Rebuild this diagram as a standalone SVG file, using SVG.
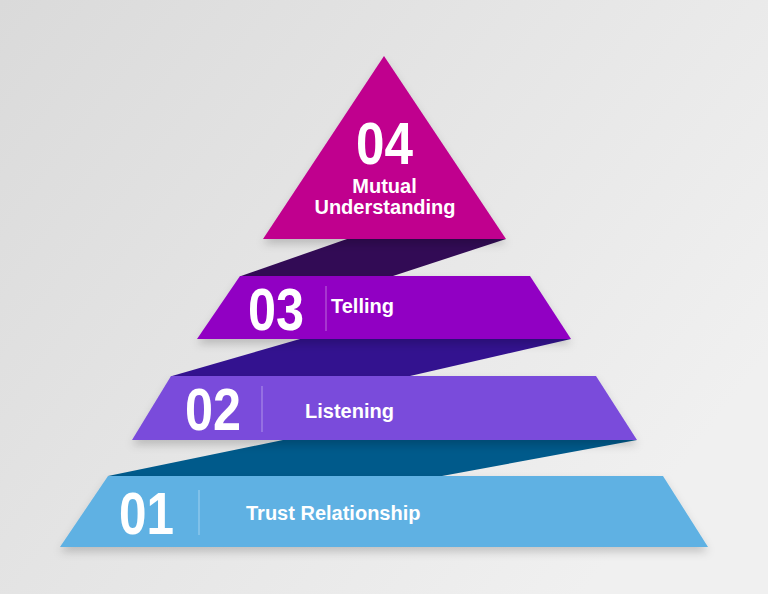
<svg xmlns="http://www.w3.org/2000/svg" width="768" height="594" viewBox="0 0 768 594">
  <defs>
    <linearGradient id="bg" x1="0" y1="0" x2="1" y2="0.6">
      <stop offset="0" stop-color="#dadada"/>
      <stop offset="1" stop-color="#f0f0f0"/>
    </linearGradient>
    <filter id="sh" x="-10%" y="-20%" width="120%" height="150%">
      <feDropShadow dx="0" dy="5" stdDeviation="4" flood-color="#000" flood-opacity="0.18"/>
    </filter>
  </defs>
  <style>
    .num { font-family: "Liberation Sans", Arial, sans-serif; font-weight: bold; font-size: 59px; fill: #ffffff; }
    .lbl { font-family: "Liberation Sans", Arial, sans-serif; font-weight: bold; font-size: 20px; fill: #ffffff; }
    .div { stroke: #ffffff; stroke-opacity: 0.35; stroke-width: 1.2; }
    .shape { filter: url(#sh); }
  </style>
  <rect width="768" height="594" fill="url(#bg)"/>

  <g id="folds">
    <polygon points="347,239 506,239 393,276 241,276" fill="#320b55"/>
    <polygon points="300,339 571,339 410,376 172,376" fill="#33128f"/>
    <polygon points="283,440 637,440 442,476 108,476" fill="#005a8b"/>
  </g>

  <g id="tier-01">
    <polygon class="shape" points="108,476 663,476 708,547 60,547" fill="#5eb1e3"/>
    <text class="num" x="119" y="534" textLength="55" lengthAdjust="spacingAndGlyphs">01</text>
    <line class="div" x1="199" y1="490" x2="199" y2="535"/>
    <text class="lbl" x="246" y="520" font-size="21">Trust Relationship</text>
  </g>

  <g id="tier-02">
    <polygon class="shape" points="171,376 596,376 637,440 132,440" fill="#7a4bdb"/>
    <text class="num" x="185" y="430" textLength="56" lengthAdjust="spacingAndGlyphs">02</text>
    <line class="div" x1="262" y1="386" x2="262" y2="432"/>
    <text class="lbl" x="305" y="418" font-size="21">Listening</text>
  </g>

  <g id="tier-03">
    <polygon class="shape" points="240,276 530,276 571,339 197,339" fill="#9103c3"/>
    <text class="num" x="248" y="330" textLength="56" lengthAdjust="spacingAndGlyphs">03</text>
    <line class="div" x1="326" y1="286" x2="326" y2="331"/>
    <text class="lbl" x="331" y="313" font-size="19.5">Telling</text>
  </g>

  <g id="tier-04">
    <polygon class="shape" points="384,56 506,239 263,239" fill="#c0048e"/>
    <text class="num" x="356" y="163.5" font-size="56" textLength="57" lengthAdjust="spacingAndGlyphs">04</text>
    <text class="lbl" x="384.5" y="193" font-size="18.5" text-anchor="middle">Mutual</text>
    <text class="lbl" x="385" y="213.5" font-size="19" text-anchor="middle">Understanding</text>
  </g>
</svg>
